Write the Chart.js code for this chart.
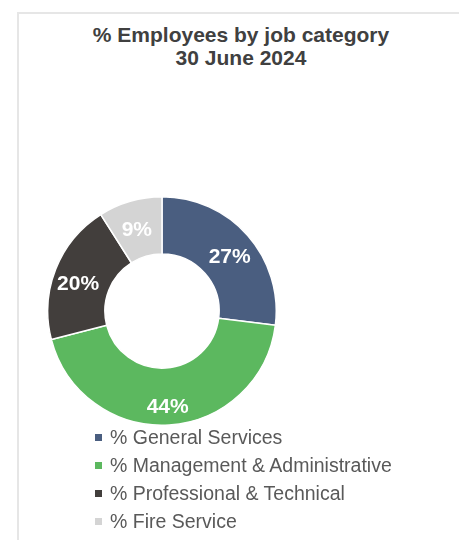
<!DOCTYPE html>
<html>
<head>
<meta charset="utf-8">
<script src="https://cdn.jsdelivr.net/npm/chart.js@4"></script>
<style>
    body { margin: 0; background: #fff; font-family: "Liberation Sans", Arial, sans-serif; overflow: hidden; }
    #frame { position: absolute; left: 17px; top: 12px; width: 480px; height: 560px; border: 2px solid #e6e6e6; }
    #title { position: absolute; left: 22px; width: 438px; top: 23px; text-align: center; font-weight: bold; font-size: 21px; line-height: 23px; color: #404040; }
    #chart-wrap { position: absolute; left: 47px; top: 196px; width: 230px; height: 230px; }
    #legend { position: absolute; left: 95px; top: 423px; margin: 0; padding: 0; list-style: none; }
    #legend li { height: 28px; display: flex; align-items: center; font-size: 19.5px; color: #595959; }
    #legend .box { width: 7px; height: 7px; margin-right: 8px; flex: none; }
</style>
</head>
<body>
<div id="frame"></div>
<div id="title">% Employees by job category<br>30 June 2024</div>
<div id="chart-wrap"><canvas id="job-canvas" width="230" height="230"></canvas></div>
<ul id="legend"></ul>
<script>
var categories = ['% General Services', '% Management & Administrative', '% Professional & Technical', '% Fire Service'];
var shares = [27, 44, 20, 9];
var sliceColors = ['#4a5e80', '#5cb85f', '#423e3c', '#d4d4d4'];

document.addEventListener('DOMContentLoaded', function() {
    var ctx = document.getElementById('job-canvas').getContext('2d');

    // white % labels in each slice, pushed a little outward like the original
    var sliceLabels = {
        id: 'sliceLabels',
        afterDatasetsDraw: function(chart) {
            var c = chart.ctx;
            var meta = chart.getDatasetMeta(0);
            c.save();
            c.font = 'bold 21px "Liberation Sans", Arial, sans-serif';
            c.fillStyle = '#fff';
            c.textAlign = 'center';
            c.textBaseline = 'middle';
            meta.data.forEach(function(arc, i) {
                var p = arc.getProps(['x', 'y', 'startAngle', 'endAngle', 'innerRadius', 'outerRadius'], true);
                var mid = (p.startAngle + p.endAngle) / 2;
                var r = p.innerRadius + (p.outerRadius - p.innerRadius) * 0.58;
                c.fillText(shares[i] + '%', p.x + Math.cos(mid) * r, p.y + Math.sin(mid) * r + 6);
            });
            c.restore();
        }
    };

    var chart = new Chart(ctx, {
        type: 'doughnut',
        data: {
            labels: categories,
            datasets: [{
                data: shares,
                backgroundColor: sliceColors,
                borderColor: '#fff',
                borderWidth: 1.5
            }]
        },
        options: {
            responsive: false,
            animation: false,
            cutout: '50%',
            layout: { padding: 0 },
            plugins: {
                legend: { display: false },
                tooltip: { enabled: false }
            }
        },
        plugins: [sliceLabels]
    });

    // legend list, one row per category
    var ul = document.getElementById('legend');
    chart.options.plugins.legend.labels.generateLabels(chart).forEach(function(item) {
        var li = document.createElement('li');
        var box = document.createElement('span');
        box.className = 'box';
        box.style.background = item.fillStyle;
        li.appendChild(box);
        li.appendChild(document.createTextNode(item.text));
        ul.appendChild(li);
    });
});
</script>
</body>
</html>
